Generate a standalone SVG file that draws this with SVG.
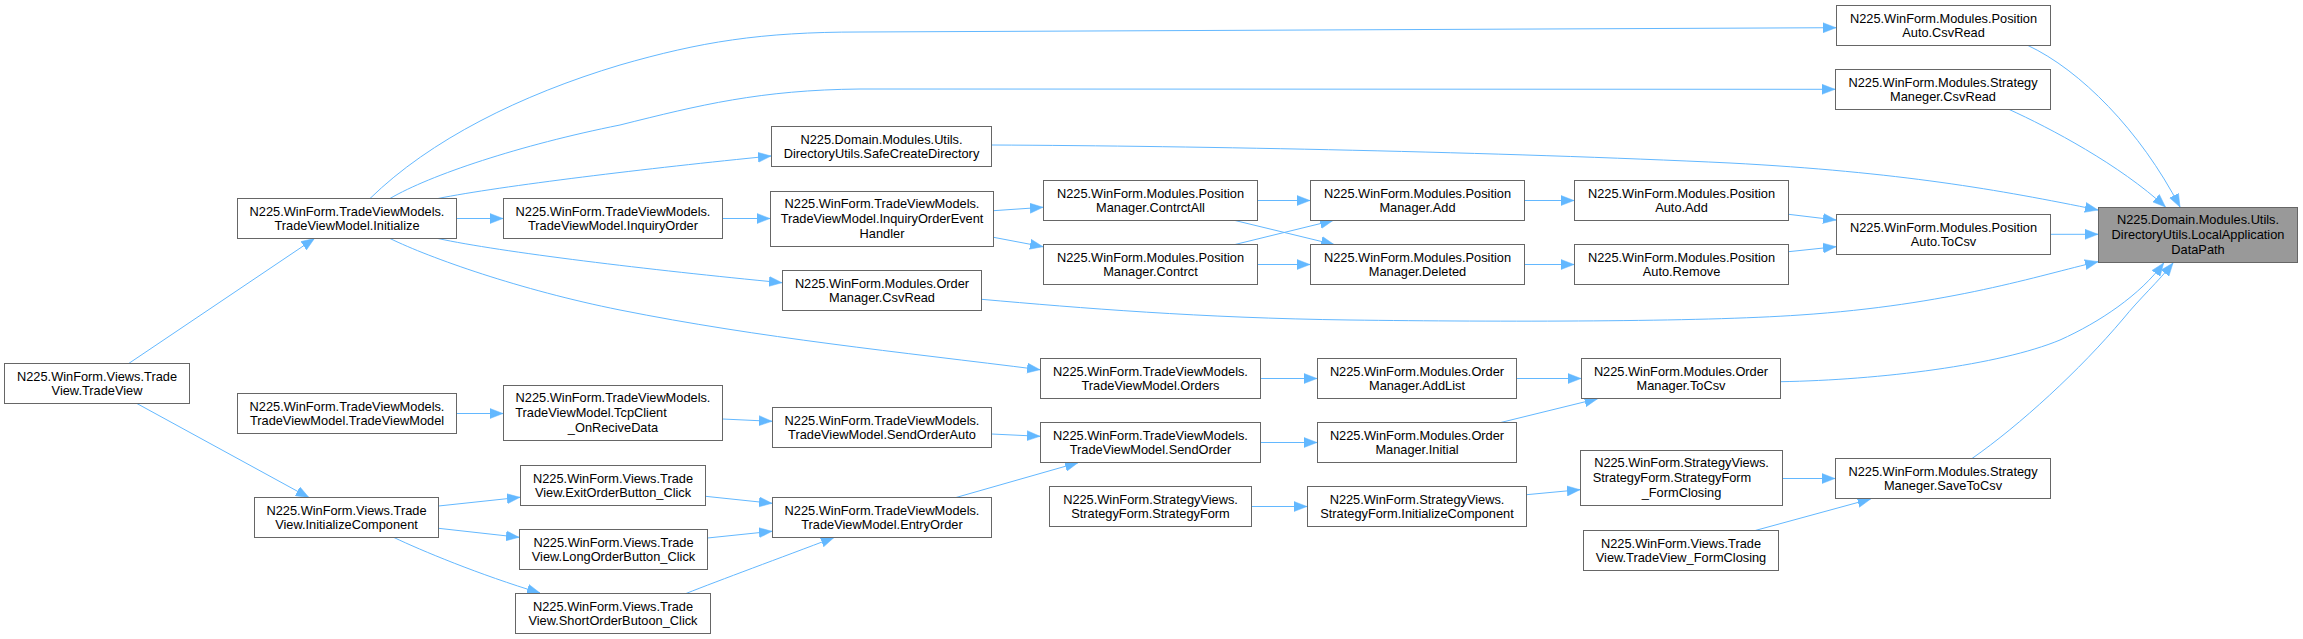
<svg xmlns="http://www.w3.org/2000/svg" width="2303" height="639" viewBox="0 0 2303 639">
<style>
.n rect{fill:#ffffff;stroke:#666666;stroke-width:1}
.n.root rect{fill:#999999}
.n text{font-family:"Liberation Sans",Arial,Helvetica,sans-serif;font-size:12.8px;text-anchor:middle;fill:#000000}
.e path{fill:none;stroke:#63B8FF;stroke-width:1;marker-end:url(#arr)}
</style>
<defs>
<marker id="arr" markerUnits="userSpaceOnUse" viewBox="0 0 13 11" markerWidth="13" markerHeight="11" refX="13" refY="5.5" orient="auto">
<path d="M0,0.5 L13,5.5 L0,10.5 z" fill="#63B8FF" stroke="#63B8FF" stroke-width="0.5"/>
</marker>
</defs>
<rect width="2303" height="639" fill="#ffffff"/>
<g id="edges" class="e">
<path d="M2028,45.5 C2080,70 2140,130 2180,207"/>
<path d="M2008.8,109.3 C2050,128 2120,165 2165.5,207"/>
<path d="M992,145 C1200,146 1500,152 1730,163 C1900,172 2000,190 2098,210"/>
<path d="M2050.5,234.3 L2098,234.3"/>
<path d="M981.5,299.3 C1080,308 1200,318 1350,320 C1500,322 1700,322 1800,315 C1950,305 2040,275 2098,261.7"/>
<path d="M1780.5,381.7 C1880,380 2000,365 2060,340 C2100,322 2140,295 2163.7,263"/>
<path d="M1972,458.5 C2020,425 2080,370 2123,319 C2140,298 2158,282 2173,263"/>
<path d="M1788.5,214.3 L1836,220"/>
<path d="M1788.5,251.7 L1836,246.7"/>
<path d="M1524.5,200.5 L1574,200.5"/>
<path d="M1524.5,264.5 L1574,264.5"/>
<path d="M1257.5,200.5 L1310,200.5"/>
<path d="M1235,244.5 L1333,220.5"/>
<path d="M1235,220.5 L1334,244.5"/>
<path d="M1257.5,264.5 L1310,264.5"/>
<path d="M993.5,210.7 L1043,207.3"/>
<path d="M993.5,237.3 L1043,246.7"/>
<path d="M722.5,218.5 L770,218.5"/>
<path d="M456.5,218.5 L503,218.5"/>
<path d="M370,198.5 C430,140 520,95 620,65 C700,42 760,32 860,32 L1836,27.7"/>
<path d="M390,198.5 C430,175 520,145 620,125 C700,105 760,90 860,89 L1835,89.3"/>
<path d="M438,198.5 C500,186 650,168 771,156"/>
<path d="M438,238.5 C500,252 650,270 782,282.7"/>
<path d="M390,238.5 C430,258 520,290 620,310 C760,338 900,352 1040,369.7"/>
<path d="M1260.5,378.5 L1317,378.5"/>
<path d="M1516.5,378.5 L1581,378.5"/>
<path d="M1500.7,422.5 L1597.6,398.7"/>
<path d="M1260.5,442.5 L1317,442.5"/>
<path d="M991.5,434 L1040,436.3"/>
<path d="M956,497.5 L1078,462.7"/>
<path d="M722.5,419 L772,421.3"/>
<path d="M456.5,413.5 L503,413.5"/>
<path d="M705.5,496.3 L772,503.3"/>
<path d="M707.5,538 L772,531.3"/>
<path d="M686,593.5 C720,580 780,558 834,537.5"/>
<path d="M438.5,506 L520,497.3"/>
<path d="M438.5,528.3 L519,537.3"/>
<path d="M394,537.5 C420,550 480,575 540,593"/>
<path d="M128.7,363.5 L314.4,238.5"/>
<path d="M136.9,403.5 L308.9,497.5"/>
<path d="M1251.5,506.5 L1307,506.5"/>
<path d="M1526.5,494.7 L1580,489.7"/>
<path d="M1782.5,478.5 L1835,478.5"/>
<path d="M1755.2,530.5 L1870.6,499"/>
</g>
<g id="n_target" class="n root"><rect x="2098.5" y="207.5" width="199" height="55"/><text x="2198" y="224">N225.Domain.Modules.Utils.</text><text x="2198" y="238.7">DirectoryUtils.LocalApplication</text><text x="2198" y="253.5">DataPath</text></g>
<g id="n_posauto_csvread" class="n"><rect x="1836.5" y="5.5" width="214" height="40"/><text x="1943.5" y="22.5">N225.WinForm.Modules.Position</text><text x="1943.5" y="36.5">Auto.CsvRead</text></g>
<g id="n_strat_csvread" class="n"><rect x="1835.5" y="69.5" width="215" height="40"/><text x="1943" y="86.5">N225.WinForm.Modules.Strategy</text><text x="1943" y="100.5">Maneger.CsvRead</text></g>
<g id="n_safecreate" class="n"><rect x="771.5" y="126.5" width="220" height="40"/><text x="881.5" y="143.5">N225.Domain.Modules.Utils.</text><text x="881.5" y="157.5">DirectoryUtils.SafeCreateDirectory</text></g>
<g id="n_posauto_tocsv" class="n"><rect x="1836.5" y="214.5" width="214" height="40"/><text x="1943.5" y="231.5">N225.WinForm.Modules.Position</text><text x="1943.5" y="245.5">Auto.ToCsv</text></g>
<g id="n_order_csvread" class="n"><rect x="782.5" y="270.5" width="199" height="40"/><text x="882" y="287.5">N225.WinForm.Modules.Order</text><text x="882" y="301.5">Manager.CsvRead</text></g>
<g id="n_order_tocsv" class="n"><rect x="1581.5" y="358.5" width="199" height="40"/><text x="1681" y="375.5">N225.WinForm.Modules.Order</text><text x="1681" y="389.5">Manager.ToCsv</text></g>
<g id="n_strat_savetocsv" class="n"><rect x="1835.5" y="458.5" width="215" height="40"/><text x="1943" y="475.5">N225.WinForm.Modules.Strategy</text><text x="1943" y="489.5">Maneger.SaveToCsv</text></g>
<g id="n_initialize" class="n"><rect x="237.5" y="198.5" width="219" height="40"/><text x="347" y="215.5">N225.WinForm.TradeViewModels.</text><text x="347" y="229.5">TradeViewModel.Initialize</text></g>
<g id="n_tradeview" class="n"><rect x="4.5" y="363.5" width="185" height="40"/><text x="97" y="380.5">N225.WinForm.Views.Trade</text><text x="97" y="394.5">View.TradeView</text></g>
<g id="n_posauto_add" class="n"><rect x="1574.5" y="180.5" width="214" height="40"/><text x="1681.5" y="197.5">N225.WinForm.Modules.Position</text><text x="1681.5" y="211.5">Auto.Add</text></g>
<g id="n_posauto_remove" class="n"><rect x="1574.5" y="244.5" width="214" height="40"/><text x="1681.5" y="261.5">N225.WinForm.Modules.Position</text><text x="1681.5" y="275.5">Auto.Remove</text></g>
<g id="n_posmgr_add" class="n"><rect x="1310.5" y="180.5" width="214" height="40"/><text x="1417.5" y="197.5">N225.WinForm.Modules.Position</text><text x="1417.5" y="211.5">Manager.Add</text></g>
<g id="n_posmgr_deleted" class="n"><rect x="1310.5" y="244.5" width="214" height="40"/><text x="1417.5" y="261.5">N225.WinForm.Modules.Position</text><text x="1417.5" y="275.5">Manager.Deleted</text></g>
<g id="n_posmgr_contrctall" class="n"><rect x="1043.5" y="180.5" width="214" height="40"/><text x="1150.5" y="197.5">N225.WinForm.Modules.Position</text><text x="1150.5" y="211.5">Manager.ContrctAll</text></g>
<g id="n_posmgr_contrct" class="n"><rect x="1043.5" y="244.5" width="214" height="40"/><text x="1150.5" y="261.5">N225.WinForm.Modules.Position</text><text x="1150.5" y="275.5">Manager.Contrct</text></g>
<g id="n_inquiry_handler" class="n"><rect x="770.5" y="191.5" width="223" height="55"/><text x="882" y="208">N225.WinForm.TradeViewModels.</text><text x="882" y="222.7">TradeViewModel.InquiryOrderEvent</text><text x="882" y="237.5">Handler</text></g>
<g id="n_inquiryorder" class="n"><rect x="503.5" y="198.5" width="219" height="40"/><text x="613" y="215.5">N225.WinForm.TradeViewModels.</text><text x="613" y="229.5">TradeViewModel.InquiryOrder</text></g>
<g id="n_orders" class="n"><rect x="1040.5" y="358.5" width="220" height="40"/><text x="1150.5" y="375.5">N225.WinForm.TradeViewModels.</text><text x="1150.5" y="389.5">TradeViewModel.Orders</text></g>
<g id="n_order_addlist" class="n"><rect x="1317.5" y="358.5" width="199" height="40"/><text x="1417" y="375.5">N225.WinForm.Modules.Order</text><text x="1417" y="389.5">Manager.AddList</text></g>
<g id="n_order_initial" class="n"><rect x="1317.5" y="422.5" width="199" height="40"/><text x="1417" y="439.5">N225.WinForm.Modules.Order</text><text x="1417" y="453.5">Manager.Initial</text></g>
<g id="n_sendorder" class="n"><rect x="1040.5" y="422.5" width="220" height="40"/><text x="1150.5" y="439.5">N225.WinForm.TradeViewModels.</text><text x="1150.5" y="453.5">TradeViewModel.SendOrder</text></g>
<g id="n_sendorderauto" class="n"><rect x="772.5" y="407.5" width="219" height="40"/><text x="882" y="424.5">N225.WinForm.TradeViewModels.</text><text x="882" y="438.5">TradeViewModel.SendOrderAuto</text></g>
<g id="n_entryorder" class="n"><rect x="772.5" y="497.5" width="219" height="40"/><text x="882" y="514.5">N225.WinForm.TradeViewModels.</text><text x="882" y="528.5">TradeViewModel.EntryOrder</text></g>
<g id="n_tcpclient" class="n"><rect x="503.5" y="385.5" width="219" height="55"/><text x="613" y="402">N225.WinForm.TradeViewModels.</text><text x="591" y="416.7">TradeViewModel.TcpClient</text><text x="613" y="431.5">_OnReciveData</text></g>
<g id="n_tvm_ctor" class="n"><rect x="237.5" y="393.5" width="219" height="40"/><text x="347" y="410.5">N225.WinForm.TradeViewModels.</text><text x="347" y="424.5">TradeViewModel.TradeViewModel</text></g>
<g id="n_tv_initcomp" class="n"><rect x="254.5" y="497.5" width="184" height="40"/><text x="346.5" y="514.5">N225.WinForm.Views.Trade</text><text x="346.5" y="528.5">View.InitializeComponent</text></g>
<g id="n_exitbtn" class="n"><rect x="520.5" y="465.5" width="185" height="40"/><text x="613" y="482.5">N225.WinForm.Views.Trade</text><text x="613" y="496.5">View.ExitOrderButton_Click</text></g>
<g id="n_longbtn" class="n"><rect x="519.5" y="529.5" width="188" height="40"/><text x="613.5" y="546.5">N225.WinForm.Views.Trade</text><text x="613.5" y="560.5">View.LongOrderButton_Click</text></g>
<g id="n_shortbtn" class="n"><rect x="515.5" y="593.5" width="195" height="40"/><text x="613" y="610.5">N225.WinForm.Views.Trade</text><text x="613" y="624.5">View.ShortOrderButoon_Click</text></g>
<g id="n_sf_closing" class="n"><rect x="1580.5" y="450.5" width="202" height="55"/><text x="1681.5" y="467">N225.WinForm.StrategyViews.</text><text x="1672" y="481.7">StrategyForm.StrategyForm</text><text x="1681.5" y="496.5">_FormClosing</text></g>
<g id="n_tv_closing" class="n"><rect x="1583.5" y="530.5" width="195" height="40"/><text x="1681" y="547.5">N225.WinForm.Views.Trade</text><text x="1681" y="561.5">View.TradeView_FormClosing</text></g>
<g id="n_sf_initcomp" class="n"><rect x="1307.5" y="486.5" width="219" height="40"/><text x="1417" y="503.5">N225.WinForm.StrategyViews.</text><text x="1417" y="517.5">StrategyForm.InitializeComponent</text></g>
<g id="n_sf_ctor" class="n"><rect x="1049.5" y="486.5" width="202" height="40"/><text x="1150.5" y="503.5">N225.WinForm.StrategyViews.</text><text x="1150.5" y="517.5">StrategyForm.StrategyForm</text></g>
</svg>
